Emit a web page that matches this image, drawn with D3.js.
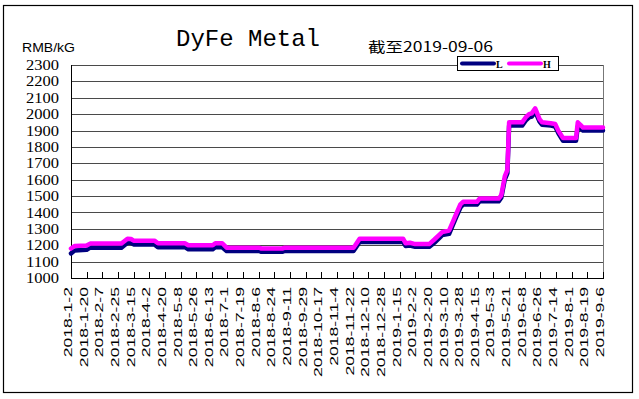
<!DOCTYPE html>
<html><head><meta charset="utf-8">
<script src="https://cdn.jsdelivr.net/npm/d3@7/dist/d3.min.js"></script>
<style>body{margin:0;background:#fff;}svg{display:block;}</style>
</head><body>
<svg id="c" width="639" height="399"></svg>
<script>
// ---- data ----
const pointDates = ["2018-01-02","2018-01-06","2018-01-20","2018-01-24","2018-03-01","2018-03-08","2018-03-12","2018-03-15","2018-04-08","2018-04-12","2018-05-13","2018-05-17","2018-06-14","2018-06-17","2018-06-25","2018-06-30","2018-08-06","2018-08-09","2018-09-02","2018-09-05","2018-11-23","2018-11-25","2018-11-30","2019-01-19","2019-01-22","2019-01-27","2019-02-02","2019-02-18","2019-02-24","2019-03-01","2019-03-05","2019-03-13","2019-03-17","2019-03-21","2019-03-26","2019-03-29","2019-04-14","2019-04-17","2019-05-09","2019-05-12","2019-05-16","2019-05-19","2019-05-21","2019-06-05","2019-06-09","2019-06-13","2019-06-16","2019-06-20","2019-06-25","2019-06-28","2019-07-08","2019-07-13","2019-07-17","2019-07-22","2019-08-06","2019-08-08","2019-08-11","2019-08-14","2019-09-06"];
const lowValues  = [1150,1168,1172,1185,1185,1215,1215,1205,1205,1188,1188,1175,1175,1188,1188,1165,1165,1160,1160,1165,1165,1180,1220,1220,1195,1198,1190,1190,1215,1240,1262,1270,1320,1370,1430,1448,1448,1468,1468,1490,1600,1640,1930,1930,1960,1980,1985,2015,1955,1935,1930,1925,1880,1838,1838,1925,1915,1900,1900];
const highValues = [1180,1195,1198,1210,1210,1240,1238,1228,1228,1212,1212,1200,1200,1212,1212,1185,1185,1180,1180,1185,1185,1200,1240,1240,1212,1215,1207,1207,1235,1260,1280,1290,1340,1390,1450,1465,1465,1485,1485,1505,1620,1660,1950,1950,1980,2000,2005,2035,1970,1950,1945,1940,1895,1855,1855,1950,1935,1918,1918];
const xTickLabels = ["2018-1-2","2018-1-20","2018-2-7","2018-2-25","2018-3-15","2018-4-2","2018-4-20","2018-5-8","2018-5-26","2018-6-13","2018-7-1","2018-7-19","2018-8-6","2018-8-24","2018-9-11","2018-9-29","2018-10-17","2018-11-4","2018-11-22","2018-12-10","2018-12-28","2019-1-15","2019-2-2","2019-2-20","2019-3-10","2019-3-28","2019-4-15","2019-5-3","2019-5-21","2019-6-8","2019-6-26","2019-7-14","2019-8-1","2019-8-19","2019-9-6"];
const yTickValues = [1000,1100,1200,1300,1400,1500,1600,1700,1800,1900,2000,2100,2200,2300];
const seriesNames = ["L","H"];
const seriesColors = ["#000080","#ff00ff"];
const titleText = "DyFe Metal";
const unitText = "RMB/kG";
const dateText = "截至2019-09-06";

// ---- layout ----
const svg = d3.select("#c");
const W = 639, H = 399;
const plot = {l:71, r:603, t:65, b:278};
const parse = d3.timeParse("%Y-%m-%d");
const parseShort = d3.timeParse("%Y-%-m-%-d");

const x = d3.scaleTime().domain([parse(pointDates[0]), parse(pointDates[pointDates.length-1])]).range([plot.l, plot.r]);
const y = d3.scaleLinear().domain([1000,2300]).range([plot.b, plot.t]);

svg.append("rect").attr("width",W).attr("height",H).attr("fill","#fff");
// outer frame
svg.append("rect").attr("x",3.5).attr("y",5.5).attr("width",629).attr("height",387)
  .attr("fill","none").attr("stroke","#000").attr("stroke-width",1.2);

// gridlines
const gy = v => Math.round(y(v)) + 0.5;
svg.append("g").selectAll("line").data(yTickValues.filter(v=>v>1000)).join("line")
  .attr("x1",plot.l).attr("x2",plot.r).attr("y1",gy).attr("y2",gy)
  .attr("stroke","#4a4a4a").attr("stroke-width",1);
// right frame line
svg.append("line").attr("x1",plot.r+0.5).attr("x2",plot.r+0.5).attr("y1",plot.t).attr("y2",plot.b)
  .attr("stroke","#777").attr("stroke-width",1);

// axes lines
svg.append("line").attr("x1",plot.l+0.5).attr("x2",plot.l+0.5).attr("y1",plot.t).attr("y2",plot.b+0.5).attr("stroke","#000");
svg.append("line").attr("x1",plot.l).attr("x2",plot.r+1).attr("y1",plot.b+0.5).attr("y2",plot.b+0.5).attr("stroke","#000");

// x ticks (inward) and labels
const tickDates = xTickLabels.map(parseShort);
svg.append("g").selectAll("line").data(tickDates).join("line")
  .attr("x1",d=>Math.round(x(d))+0.5).attr("x2",d=>Math.round(x(d))+0.5)
  .attr("y1",plot.b-6).attr("y2",plot.b).attr("stroke","#000");
svg.append("g").selectAll("text").data(xTickLabels).join("text")
  .attr("transform",(d,i)=>`translate(${Math.round(x(tickDates[i]))+1},287) rotate(-90) scale(1.6,1)`)
  .attr("text-anchor","end")
  .attr("font-family","Liberation Sans, Arial, sans-serif").attr("font-size",11)
  .attr("fill","#000").text(d=>d);

// y labels
svg.append("g").selectAll("text").data(yTickValues).join("text")
  .attr("x",26).attr("y",d=>y(d)).attr("dy","0.34em")
  .attr("textLength",33).attr("lengthAdjust","spacingAndGlyphs")
  .attr("font-family","Liberation Serif, serif").attr("font-size",15).attr("fill","#000").text(d=>d);

// series
const pts = pointDates.map((d,i)=>({date:parse(d), L:lowValues[i], H:highValues[i]}));
const keys = ["L","H"];
keys.forEach((k,i)=>{
  svg.append("path").datum(pts)
    .attr("d", d3.line().x(p=>x(p.date)).y(p=>y(p[k])))
    .attr("fill","none").attr("stroke",seriesColors[i]).attr("stroke-width",4.5)
    .attr("stroke-linejoin","round").attr("stroke-linecap","round");
});

// legend
const lg = svg.append("g");
lg.append("rect").attr("x",457.5).attr("y",56.5).attr("width",101).attr("height",14)
  .attr("fill","#fff").attr("stroke","#000").attr("stroke-width",1);
const legX = [462, 509];
seriesNames.forEach((n,i)=>{
  lg.append("line").attr("x1",legX[i]).attr("x2",legX[i]+32).attr("y1",63.5).attr("y2",63.5)
    .attr("stroke",seriesColors[i]).attr("stroke-width",4).attr("stroke-linecap","round");
  lg.append("text").attr("x",legX[i]+34).attr("y",67.5)
    .attr("font-family","Liberation Serif, serif").attr("font-size",10).attr("font-weight","bold")
    .attr("fill","#000").text(n);
});

// texts
svg.append("text").attr("x",176).attr("y",46)
  .attr("font-family","Liberation Mono, monospace").attr("font-size",24).attr("fill","#000").text(titleText);
svg.append("text").attr("x",22).attr("y",52).attr("textLength",53).attr("lengthAdjust","spacingAndGlyphs")
  .attr("font-family","Liberation Sans, Arial, sans-serif").attr("font-size",13).attr("fill","#000").text(unitText);
svg.append("text").attr("x",368).attr("y",52).attr("textLength",125).attr("lengthAdjust","spacingAndGlyphs")
  .attr("font-family","Noto Sans CJK SC, sans-serif").attr("font-size",14).attr("fill","#000").text(dateText);
</script>
</body></html>
